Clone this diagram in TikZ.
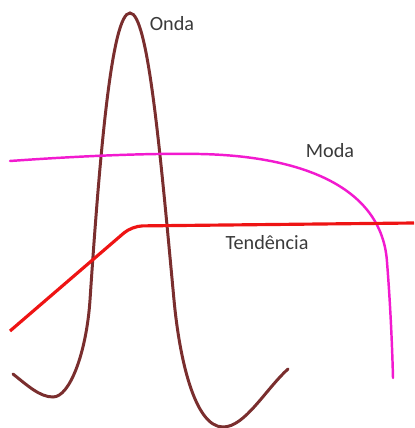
\documentclass[tikz,border=0pt]{standalone}
\usepackage{fontspec}
\setmainfont{Carlito}
\definecolor{ondabrown}{HTML}{7A2E2E}
\definecolor{modapink}{HTML}{F21ACF}
\definecolor{tendred}{HTML}{EE1414}
\definecolor{labelgray}{HTML}{3A3A3A}
\begin{document}
\begin{tikzpicture}[x=0.02cm, y=-0.02cm]
  \tikzset{
    curvelabel/.style={labelgray, font=\fontsize{11.5}{13}\selectfont, inner sep=0pt},
  }
  \useasboundingbox (0,0) rectangle (414,428);

  % Onda (brown wave)
  \draw[ondabrown, line width=1.7pt, line cap=round]
    (13,374) .. controls (28,386) and (40,397) .. (53,397)
    .. controls (70,397) and (86.5,352) .. (90,300)
    .. controls (100,150) and (112,13) .. (130,13)
    .. controls (148,13) and (160,150) .. (174,300)
    .. controls (179.6,360) and (195,427) .. (223,427)
    .. controls (245,427) and (265,390) .. (288,369);

  % Moda (magenta)
  \draw[modapink, line width=1.4pt, line cap=round]
    (10,161) .. controls (80,156) and (150,153) .. (200,154)
    .. controls (300,156) and (382,186) .. (387,262)
    .. controls (390,300) and (392,340) .. (393,378);

  % Tendencia (red trend)
  \draw[tendred, line width=1.8pt, rounded corners=6pt]
    (10,331) -- (132,226) -- (414,223);

  % Labels
  \node[curvelabel] (onda) at (172,24) {Onda};
  \node[curvelabel] (moda) at (330,151) {Moda};
  \node[curvelabel] (tendencia) at (267,243) {Tendência};
\end{tikzpicture}
\end{document}
